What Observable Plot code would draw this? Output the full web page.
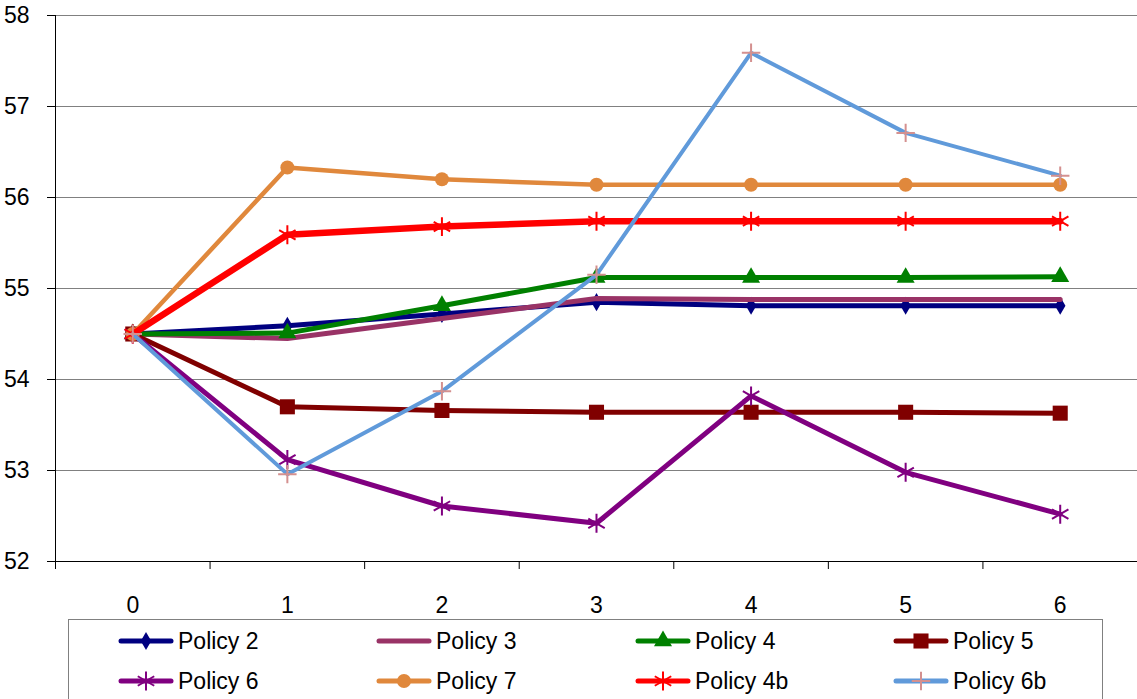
<!DOCTYPE html>
<html><head><meta charset="utf-8">
<script src="https://cdn.jsdelivr.net/npm/d3@7"></script>
<script src="https://cdn.jsdelivr.net/npm/@observablehq/plot@0.6"></script>
<style>
body{margin:0;background:#fff;font-family:"Liberation Sans",Arial,sans-serif;}
#wrap{position:relative;width:1137px;height:699px;overflow:hidden;}
#legend{position:absolute;left:68px;top:619px;width:1035px;height:110px;border:1px solid #808080;box-sizing:border-box;background:#fff;}
.item{position:absolute;display:flex;align-items:center;font-size:23px;height:30px;white-space:nowrap;}
.item svg{margin-right:4px;}
</style></head><body>
<div id="wrap"><div id="chart"></div><div id="legend"></div></div>
<script>
const periods = [0, 1, 2, 3, 4, 5, 6];
const policy2  = [54.5, 54.59, 54.72, 54.85, 54.81, 54.81, 54.81];
const policy3  = [54.5, 54.45, 54.67, 54.89, 54.88, 54.88, 54.88];
const policy4  = [54.5, 54.51, 54.81, 55.12, 55.12, 55.12, 55.13];
const policy5  = [54.5, 53.70, 53.66, 53.64, 53.64, 53.64, 53.63];
const policy6  = [54.5, 53.12, 52.61, 52.42, 53.82, 52.98, 52.52];
const policy7  = [54.5, 56.33, 56.20, 56.14, 56.14, 56.14, 56.14];
const policy4b = [54.5, 55.59, 55.68, 55.74, 55.74, 55.74, 55.74];
const policy6b = [54.5, 52.96, 53.87, 55.15, 57.59, 56.71, 56.24];

const seriesNames   = ["Policy 2", "Policy 3", "Policy 4", "Policy 5", "Policy 6", "Policy 7", "Policy 4b", "Policy 6b"];
const seriesValues  = [policy2, policy3, policy4, policy5, policy6, policy7, policy4b, policy6b];
const seriesColors  = ["#000080", "#993366", "#008000", "#800000", "#800080", "#E0883C", "#FF0000", "#609ADA"];
const markerColors  = ["#000080", "#993366", "#008000", "#800000", "#800080", "#E0883C", "#FF0000", "#D4908F"];
const seriesMarkers = ["diamond", null, "triangle", "square", "asterisk", "circle", "asterisk", "plus"];
const markerRadius  = [5.5, 0, 6.7, 8.5, 9, 7, 9, 6];
const lineWidths    = [5, 5, 5, 5, 5, 4.5, 6.5, 4];
const yTicks = [52, 53, 54, 55, 56, 57, 58];
const xBoundaries = [-0.5, 0.5, 1.5, 2.5, 3.5, 4.5, 5.5, 6.5];

const strokeSymbols = new Set(["asterisk", "plus", "times", "cross2"]);
const d3Symbols = {diamond: d3.symbolDiamond, triangle: d3.symbolTriangle, square: d3.symbolSquare,
  circle: d3.symbolCircle, asterisk: d3.symbolAsterisk, plus: d3.symbolPlus};

const seriesMarks = [];
seriesNames.forEach((name, i) => {
  const rows = periods.map((p, j) => ({period: p, value: seriesValues[i][j]}));
  seriesMarks.push(Plot.line(rows, {x: "period", y: "value", stroke: seriesColors[i], strokeWidth: lineWidths[i], strokeLinejoin: "round"}));
  const m = seriesMarkers[i];
  if (m) {
    const isStroke = strokeSymbols.has(m);
    seriesMarks.push(Plot.dot(rows, {x: "period", y: "value", symbol: m, r: markerRadius[i],
      fill: isStroke ? "none" : markerColors[i], stroke: isStroke ? markerColors[i] : "none", strokeWidth: isStroke ? 2 : 0}));
  }
});

const chart = Plot.plot({
  width: 1137, height: 617,
  marginLeft: 55, marginRight: 0, marginTop: 15, marginBottom: 56,
  style: {fontFamily: "'Liberation Sans', Arial, sans-serif", fontSize: "23px", background: "#fff", overflow: "visible"},
  x: {type: "linear", domain: [-0.5, 6.5]},
  y: {domain: [52, 58]},
  marks: [
    Plot.ruleY(yTicks.filter(d => d > 52), {stroke: "#808080", strokeWidth: 1, strokeOpacity: 1}),
    Plot.axisY(yTicks, {tickSize: 8, tickPadding: 18, fontSize: 23, label: null, tickFormat: d => String(d), stroke: "#000", strokeOpacity: 1, fill: "#000"}),
    Plot.axisX(xBoundaries, {tickSize: 8, tickFormat: () => "", label: null, stroke: "#000", strokeOpacity: 1}),
    Plot.axisX(periods, {tickSize: 0, tickPadding: 35, fontSize: 23, label: null, tickFormat: d => String(d), fill: "#000"}),
    Plot.ruleX([-0.5], {stroke: "#000", strokeWidth: 1}),
    Plot.ruleY([52], {stroke: "#000", strokeWidth: 1}),
    ...seriesMarks
  ]
});
document.getElementById("chart").appendChild(chart);

// Legend
const legend = document.getElementById("legend");
const colX = [49, 307, 566, 824];
const rowY = [6, 46];
seriesNames.forEach((name, i) => {
  const item = document.createElement("div");
  item.className = "item";
  item.style.left = colX[i % 4] + "px";
  item.style.top = rowY[Math.floor(i / 4)] + "px";
  const svg = d3.create("svg").attr("width", 56).attr("height", 26);
  svg.append("line").attr("x1", 3).attr("x2", 53).attr("y1", 13).attr("y2", 13)
    .attr("stroke", seriesColors[i]).attr("stroke-width", 5).attr("stroke-linecap", "round");
  const m = seriesMarkers[i];
  if (m) {
    const isStroke = strokeSymbols.has(m);
    const r = markerRadius[i];
    svg.append("path").attr("transform", "translate(28,13)")
      .attr("d", d3.symbol(d3Symbols[m], Math.PI * r * r)())
      .attr("fill", isStroke ? "none" : markerColors[i])
      .attr("stroke", isStroke ? markerColors[i] : "none")
      .attr("stroke-width", isStroke ? 2 : 0);
  }
  item.appendChild(svg.node());
  const span = document.createElement("span");
  span.textContent = name;
  item.appendChild(span);
  legend.appendChild(item);
});
</script>
</body></html>
